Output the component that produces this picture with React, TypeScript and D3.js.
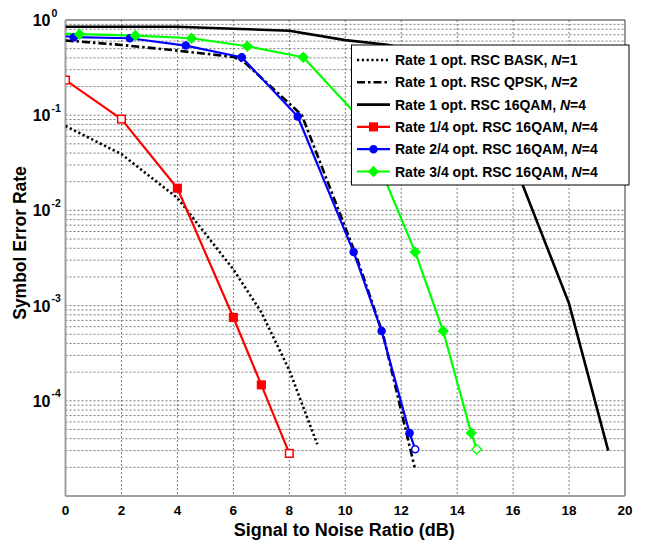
import React from "react";
import * as d3 from "d3";

// ---- data ----
const snrBask = [0, 2, 4, 6, 7, 8, 9];
const serBask = [0.077, 0.039, 0.0135, 2.4e-3, 8.5e-4, 2.1e-4, 3.5e-5];

const snrQpsk = [0, 2, 4, 6, 6.4, 8.45, 10.35, 11.35, 12.48];
const serQpsk = [0.61, 0.547, 0.477, 0.41, 0.36, 0.1, 3.6e-3, 5.0e-4, 2.0e-5];

const snr16 = [0, 4, 6, 8, 10, 11.5, 13, 14.5, 15.5, 16.35, 18, 19.4];
const ser16 = [0.85, 0.85, 0.81, 0.77, 0.615, 0.55, 0.45, 0.22, 0.075, 0.0183, 1.05e-3, 3.0e-5];

const snrR14 = [0, 2, 4, 6, 7, 8];
const serR14 = [0.234, 0.091, 0.0171, 7.5e-4, 1.47e-4, 2.8e-5];

const snrR24 = [0, 0.3, 2.3, 4.3, 6.3, 8.3, 10.3, 11.3, 12.3, 12.5];
const serR24 = [0.675, 0.66, 0.643, 0.539, 0.406, 0.097, 3.65e-3, 5.4e-4, 4.6e-5, 3.1e-5];

const snrR34 = [0, 0.5, 2.5, 4.5, 6.5, 8.5, 10.5, 12.5, 13.5, 14.5, 14.7];
const serR34 = [0.715, 0.71, 0.686, 0.643, 0.53, 0.406, 0.094, 3.65e-3, 5.4e-4, 4.6e-5, 3.1e-5];

const legendLabels = [
  ["Rate 1 opt. RSC BASK, ", "N", "=1"],
  ["Rate 1 opt. RSC QPSK, ", "N", "=2"],
  ["Rate 1 opt. RSC 16QAM, ", "N", "=4"],
  ["Rate 1/4 opt. RSC 16QAM, ", "N", "=4"],
  ["Rate 2/4 opt. RSC 16QAM, ", "N", "=4"],
  ["Rate 3/4 opt. RSC 16QAM, ", "N", "=4"],
];

const xTicks = [0, 2, 4, 6, 8, 10, 12, 14, 16, 18, 20];
const yExponents = [0, -1, -2, -3, -4];

const xTitle = "Signal to Noise Ratio (dB)";
const yTitle = "Symbol Error Rate";

// ---- layout ----
const W = 645, H = 541;
const L = 65.5, R = 625, T = 20, B = 496;

type Series = {
  x: number[]; y: number[]; color: string; width: number; dash?: string;
  marker?: "square" | "circle" | "diamond"; markerFrom?: number; hollow?: number[];
};

const series: Series[] = [
  { x: snrBask, y: serBask, color: "#000", width: 2.6, dash: "2.2,2.6" },
  { x: snrQpsk, y: serQpsk, color: "#000", width: 2.6, dash: "8,3,2.5,3" },
  { x: snr16, y: ser16, color: "#000", width: 2.6 },
  { x: snrR14, y: serR14, color: "#ff0000", width: 2.2, marker: "square", markerFrom: 0, hollow: [0, 1, 5] },
  { x: snrR24, y: serR24, color: "#0000ff", width: 2.2, marker: "circle", markerFrom: 1, hollow: [9] },
  { x: snrR34, y: serR34, color: "#00ff00", width: 2.2, marker: "diamond", markerFrom: 1, hollow: [10] },
];

function Marker({ kind, cx, cy, color, hollow }: { kind: string; cx: number; cy: number; color: string; hollow?: boolean }) {
  const fill = hollow ? "#fff" : color;
  if (kind === "square") return <rect x={cx - 3.8} y={cy - 3.8} width={7.6} height={7.6} fill={fill} stroke={color} strokeWidth={1.5} />;
  if (kind === "circle") return <circle cx={cx} cy={cy} r={3.5} fill={fill} stroke={color} strokeWidth={1.5} />;
  const s = 4.8;
  return <path d={`M${cx},${cy - s}L${cx + s},${cy}L${cx},${cy + s}L${cx - s},${cy}Z`} fill={fill} stroke={color} strokeWidth={1.3} />;
}

export default function App() {
  const x = d3.scaleLinear().domain([0, 20]).range([L, R]);
  const y = d3.scaleLog().domain([1e-5, 1]).range([B, T]);
  const line = (xs: number[], ys: number[]) =>
    d3.line<number>().x((_, i) => x(xs[i])).y((_, i) => y(ys[i]))(ys) || "";

  const minorY: number[] = [];
  for (let e = -5; e < 0; e++) for (let m = 1; m <= 9; m++) minorY.push(m * Math.pow(10, e));

  const font = "Arial, 'Liberation Sans', Helvetica, sans-serif";
  const legX = 351.5, legY = 45, legW = 277.5, legH = 140;
  const rowY0 = 60, rowStep = 22.3;

  return (
    <svg width={W} height={H} style={{ position: "absolute", left: 0, top: 0, background: "#fff" }} fontFamily={font}>
      <rect x={0} y={0} width={W} height={H} fill="#fff" />
      <defs>
        <clipPath id="plotclip"><rect x={L} y={T} width={R - L} height={B - T} /></clipPath>
      </defs>
      {/* grid */}
      <g stroke="#555" strokeWidth={0.8} strokeDasharray="2,2">
        {minorY.filter(v => v > 1e-5).map((v, i) => (
          <line key={"h" + i} x1={L} x2={R} y1={y(v)} y2={y(v)} />
        ))}
        {xTicks.slice(1, -1).map(t => (
          <line key={"v" + t} x1={x(t)} x2={x(t)} y1={T} y2={B} />
        ))}
      </g>
      {/* box */}
      <line x1={L} x2={R} y1={T} y2={T} stroke="#333" strokeWidth={1} />
      <line x1={R} x2={R} y1={T} y2={B} stroke="#555" strokeWidth={1.2} />
      <line x1={L} x2={L} y1={T} y2={B} stroke="#a0a0a0" strokeWidth={2} />
      <line x1={L} x2={R} y1={B} y2={B} stroke="#a0a0a0" strokeWidth={2} />
      {/* series */}
      <g clipPath="url(#plotclip)">
        {series.map((s, i) => (
          <path key={i} d={line(s.x, s.y)} fill="none" stroke={s.color} strokeWidth={s.width}
            strokeDasharray={s.dash} strokeLinejoin="round" />
        ))}
        {series.map((s, i) =>
          s.marker ? s.x.map((v, j) => j >= (s.markerFrom || 0) ? (
            <Marker key={i + "-" + j} kind={s.marker!} cx={x(v)} cy={y(s.y[j])} color={s.color}
              hollow={(s.hollow || []).includes(j)} />
          ) : null) : null
        )}
      </g>
      {/* x tick labels */}
      <g fontSize={13.5} fontWeight="bold" textAnchor="middle">
        {xTicks.map(t => (
          <text key={t} x={x(t)} y={514.5}>{t}</text>
        ))}
      </g>
      {/* y tick labels */}
      <g fontWeight="bold">
        {yExponents.map(e => {
          const gy = y(Math.pow(10, e));
          return (
            <g key={e}>
              <text x={50.5} y={gy + 6} fontSize={16} textAnchor="end">10</text>
              <text x={51.5} y={gy - 3.5} fontSize={10.5}>{e === 0 ? "0" : String(e)}</text>
            </g>
          );
        })}
      </g>
      {/* titles */}
      <text x={(L + R) / 2 - 1} y={536} fontSize={18} fontWeight="bold" textAnchor="middle">{xTitle}</text>
      <text transform={`translate(26,243) rotate(-90)`} fontSize={17.5} fontWeight="bold" textAnchor="middle">{yTitle}</text>
      {/* legend */}
      <rect x={legX} y={legY} width={legW} height={legH} fill="#fff" stroke="#000" strokeWidth={1} />
      {series.map((s, i) => {
        const ry = rowY0 + i * rowStep;
        return (
          <g key={"leg" + i}>
            <line x1={357} x2={390} y1={ry} y2={ry} stroke={s.color} strokeWidth={s.width} strokeDasharray={s.dash} />
            {s.marker ? <Marker kind={s.marker} cx={373.5} cy={ry} color={s.color} /> : null}
            <text x={395} y={ry + 5} fontSize={14} fontWeight="bold">
              {legendLabels[i][0]}<tspan fontStyle="italic">{legendLabels[i][1]}</tspan>{legendLabels[i][2]}
            </text>
          </g>
        );
      })}
    </svg>
  );
}
